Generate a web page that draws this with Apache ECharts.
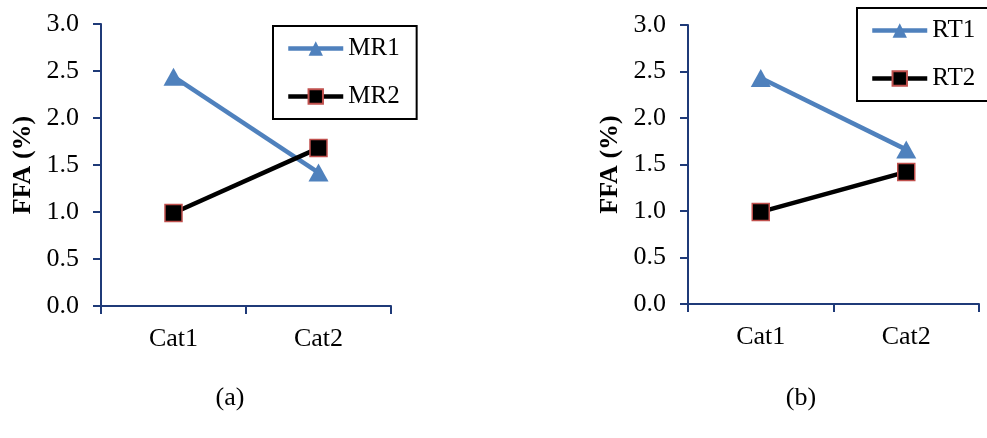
<!DOCTYPE html>
<html>
<head>
<meta charset="utf-8">
<script src="https://cdn.jsdelivr.net/npm/echarts@6/dist/echarts.min.js"></script>
<style>
  html, body { margin: 0; padding: 0; background: #fff; }
  #chart { width: 987px; height: 438px; }
</style>
</head>
<body>
<div id="chart"></div>
<script>
// Categories and FFA values (%) for the two panels
const categories = ['Cat1', 'Cat2'];
const mr1 = [2.44, 1.42];
const mr2 = [0.99, 1.68];
const rt1 = [2.43, 1.66];
const rt2 = [0.99, 1.42];
const yTicks = { min: 0, max: 3, interval: 0.5 };

const FONT = "'Liberation Serif', 'Times New Roman', serif";
const AXIS = '#1F3A78';
const BLUE = '#4F81BD';
const RED = '#C0504D';

function yAxisFor(gridIndex) {
  return {
    type: 'value', gridIndex,
    min: yTicks.min, max: yTicks.max, interval: yTicks.interval,
    name: 'FFA (%)', nameLocation: 'middle', nameGap: 65,
    nameTextStyle: { fontFamily: FONT, fontSize: 26, fontWeight: 'bold', color: '#000' },
    axisLine: { show: true, lineStyle: { color: AXIS, width: 2 } },
    axisTick: { show: true, length: 8, lineStyle: { color: AXIS, width: 2 } },
    axisLabel: { fontFamily: FONT, fontSize: 26, color: '#000', margin: 22,
                 formatter: v => v.toFixed(1) },
    splitLine: { show: false }
  };
}
function xAxisFor(gridIndex) {
  return {
    type: 'category', gridIndex, data: categories, boundaryGap: true,
    axisLine: { show: true, lineStyle: { color: AXIS, width: 2 } },
    axisTick: { show: true, length: 8, lineStyle: { color: AXIS, width: 2 } },
    axisLabel: { fontFamily: FONT, fontSize: 26, color: '#000', margin: 20 }
  };
}
function triSeries(name, data, idx) {
  return {
    name, type: 'line', data, xAxisIndex: idx, yAxisIndex: idx,
    symbol: 'triangle', symbolSize: [20, 18],
    lineStyle: { color: BLUE, width: 4.5 },
    itemStyle: { color: BLUE, borderWidth: 0 },
    z: 3
  };
}
function sqSeries(name, data, idx) {
  return {
    name, type: 'line', data, xAxisIndex: idx, yAxisIndex: idx,
    symbol: 'rect', symbolSize: 17,
    lineStyle: { color: '#000', width: 4.5 },
    itemStyle: { color: '#000', borderColor: RED, borderWidth: 1.5 },
    z: 4
  };
}
function legendFor(names, left, top) {
  return {
    data: names, orient: 'vertical', left, top,
    borderColor: '#000', borderWidth: 2,
    padding: [10, 17, 10, 13],
    itemWidth: 55, itemHeight: 18, itemGap: 23, itemTextGap: 3,
    lineStyle: { width: 4.5 },
    textStyle: { fontFamily: FONT, fontSize: 25, color: '#000' }
  };
}

const chart = echarts.init(document.getElementById('chart'), null, { renderer: 'canvas' });
chart.setOption({
  animation: false,
  backgroundColor: '#fff',
  grid: [
    { left: 101, right: 596, top: 24, bottom: 132 },
    { left: 688, right: 8, top: 25, bottom: 134 }
  ],
  xAxis: [xAxisFor(0), xAxisFor(1)],
  yAxis: [yAxisFor(0), yAxisFor(1)],
  legend: [
    legendFor(['MR1', 'MR2'], 273, 26),
    legendFor(['RT1', 'RT2'], 857, 8)
  ],
  series: [
    triSeries('MR1', mr1, 0),
    sqSeries('MR2', mr2, 0),
    triSeries('RT1', rt1, 1),
    sqSeries('RT2', rt2, 1)
  ],
  graphic: [
    { type: 'text', x: 230, y: 398,
      style: { text: '(a)', font: "26px " + FONT, fill: '#000',
               textAlign: 'center', textVerticalAlign: 'middle' } },
    { type: 'text', x: 801, y: 398,
      style: { text: '(b)', font: "26px " + FONT, fill: '#000',
               textAlign: 'center', textVerticalAlign: 'middle' } }
  ]
});
</script>
</body>
</html>
